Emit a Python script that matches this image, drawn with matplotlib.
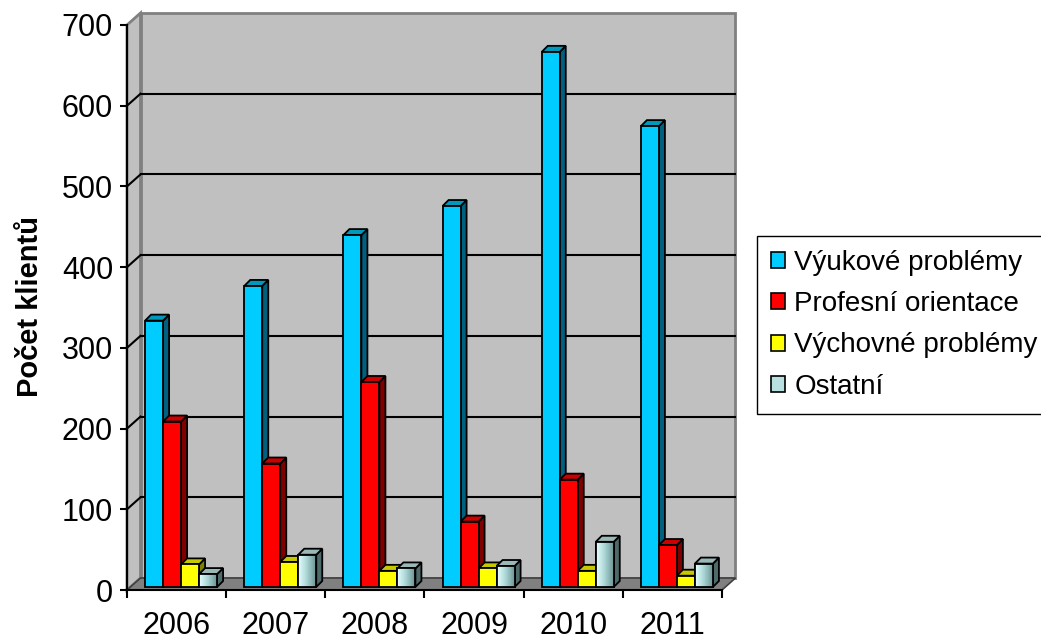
import numpy as np
import matplotlib.pyplot as plt
from matplotlib.patches import Polygon, Rectangle, Patch
from matplotlib.colors import LinearSegmentedColormap

plt.rcParams['font.family'] = ['Liberation Sans', 'DejaVu Sans']

years = ['2006', '2007', '2008', '2009', '2010', '2011']
series = ['Výukové problémy', 'Profesní orientace', 'Výchovné problémy', 'Ostatní']
vyukove = [330, 373, 436, 472, 663, 571]
profesni = [205, 153, 254, 81, 133, 52]
vychovne = [28, 31, 20, 23, 20, 14]
ostatni = [16, 40, 23, 26, 56, 29]
values = [vyukove, profesni, vychovne, ostatni]

# front, side, top colours
front = ['#00ccff', '#ff0000', '#ffff00', '#b8e0e0']
side = ['#006080', '#800000', '#808000', '#4f6a6a']
top = ['#0099bb', '#cc0000', '#c8c800', '#9ab8b8']

W, H = 1041, 641
fig = plt.figure(figsize=(W / 100, H / 100), dpi=100)
# axes = front plane of the 3d box (pixel geometry of the original)
ax = fig.add_axes([127 / W, 51 / H, 595 / W, 565 / H])
ax.set_xlim(0, 6)
ax.set_ylim(0, 700)

ux = 6 / 595     # data units per pixel
uy = 700 / 565
Dx, Dy = 13.5 * ux, 12 * uy   # depth of the box
ymax = 700

# back wall, side wall, floor
ax.add_patch(Rectangle((Dx, Dy), 6, ymax, fc='#c0c0c0', ec='#808080', lw=2,
                       zorder=0.5, clip_on=False))
ax.add_patch(Polygon([(0, 0), (Dx, Dy), (Dx, ymax + Dy), (0, ymax)],
                     fc='#c0c0c0', ec='#808080', lw=2, zorder=0.5, clip_on=False))
for v in range(100, 700, 100):
    ax.plot([Dx, 6 + Dx], [v + Dy, v + Dy], color='black', lw=1.5, zorder=1, clip_on=False)
    ax.plot([0, Dx], [v, v + Dy], color='black', lw=1.5, zorder=1, clip_on=False)
ax.add_patch(Polygon([(0, 0), (6, 0), (6 + Dx, Dy), (Dx, Dy)],
                     fc='#808080', ec='#404040', lw=1.2, zorder=1.5, clip_on=False))

# bars
w = 18 * ux
bx, by = 6 * ux, 6 * uy     # bar depth
base = 3 * uy
shift = 4.5 * ux
grad = LinearSegmentedColormap.from_list('g', ['#e8ffff', '#a8d4d4', '#6e9494'])
gimg = np.linspace(0, 1, 64).reshape(1, -1)

for s, vals in enumerate(values):
    z = 3 + s
    for i, v in enumerate(vals):
        x0 = i + 0.5 - 2 * w + shift + s * w
        t = base + v
        fp = Rectangle((x0, base), w, v, fc=front[s], ec='black', lw=1.3, zorder=z + 0.2)
        ax.add_patch(fp)
        if s == 3:
            im = ax.imshow(gimg, extent=[x0, x0 + w, base, t], aspect='auto', cmap=grad,
                           zorder=z + 0.3, interpolation='bilinear')
            im.set_clip_path(fp)
            ax.add_patch(Rectangle((x0, base), w, v, fc='none', ec='black', lw=1.3,
                                   zorder=z + 0.4))
        ax.add_patch(Polygon([(x0 + w, base), (x0 + w + bx, base + by),
                              (x0 + w + bx, t + by), (x0 + w, t)],
                             fc=side[s], ec='black', lw=1.3, zorder=z))
        ax.add_patch(Polygon([(x0, t), (x0 + bx, t + by), (x0 + w + bx, t + by), (x0 + w, t)],
                             fc=top[s], ec='black', lw=1.3, zorder=z + 0.1))

ax.set_xlim(0, 6)
ax.set_ylim(0, 700)
ax.set_facecolor('none')

for sp in ['top', 'right']:
    ax.spines[sp].set_visible(False)
ax.spines['left'].set_linewidth(1.5)
ax.spines['bottom'].set_linewidth(1.5)
ax.spines['left'].set_zorder(2)
ax.spines['bottom'].set_zorder(2)

ax.set_yticks(range(0, 701, 100))
ax.tick_params(axis='y', length=5, width=1.5, pad=5, labelsize=22)
ax.set_xticks(np.arange(6) + 0.5)
ax.set_xticklabels(years)
ax.set_xticks(np.arange(7), minor=True)
ax.tick_params(axis='x', which='major', length=0, pad=15, labelsize=22)
ax.tick_params(axis='x', which='minor', length=6, width=1.5)

fig.text(30 / W, 1 - 306 / H, 'Počet klientů', rotation=90, fontsize=21,
         fontweight='bold', ha='center', va='center')

handles = [Patch(fc=front[k], ec='black', lw=1.2) for k in range(4)]
fig.legend(handles, series, loc='upper left', bbox_to_anchor=(757 / W, 1 - 236 / H),
           fontsize=20, frameon=True, fancybox=False, edgecolor='black', framealpha=1,
           borderaxespad=0, handlelength=0.5, handleheight=0.5, handletextpad=0.35,
           labelspacing=0.55, borderpad=0.5)

fig.savefig('out.png', dpi=100)
